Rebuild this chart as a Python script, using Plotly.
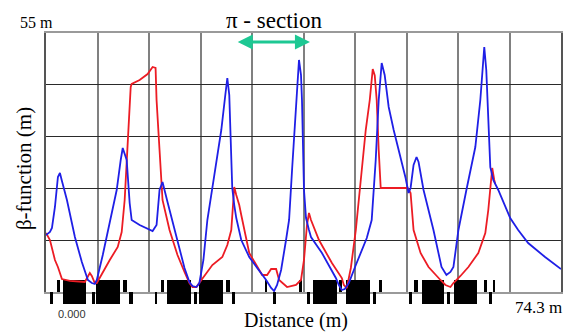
import plotly.graph_objects as go

# ---- data (metres) ----
blue_s = [0, 0.57, 0.86, 1.29, 1.72, 2.01, 2.30, 3.02, 4.17, 5.17, 6.04, 6.61, 7.04, 7.33, 8.19, 9.20,
          10.20, 10.78, 11.07, 11.64, 12.07, 12.36, 13.51, 15.38, 15.95, 16.38, 16.81, 17.53, 18.83,
          19.98, 20.69, 21.13, 21.70, 22.13, 22.71, 23.28, 24.29, 25.29, 25.87, 26.16, 26.44, 26.73,
          26.87, 27.16, 27.45, 28.17, 29.32, 30.47, 31.76, 32.48, 32.91, 33.34, 33.92, 34.63, 35.07,
          35.50, 35.93, 36.22, 36.50, 36.79, 36.93, 37.22, 37.51, 37.94, 38.23, 39.81, 40.81, 41.82,
          42.25, 42.68, 43.11, 43.69, 44.70, 45.56, 46.28, 46.99, 47.57, 48.00, 48.29, 48.43, 48.86,
          49.44, 50.16, 50.88, 51.88, 52.31, 52.60, 53.03, 53.46, 53.75, 54.47, 55.90, 57.06, 57.77,
          58.35, 58.78, 59.50, 60.65, 61.94, 62.66, 63.09, 63.23, 63.52, 63.81, 64.10, 64.53, 65.25,
          66.97, 68.12, 69.56, 72.00, 74.30]
blue_beta = [12.1, 12.74, 13.6, 18.05, 24.42, 25.27, 23.57, 19.54, 11.68, 6.37, 2.55, 1.91, 1.70, 2.55,
             7.86, 14.86, 21.66, 28.03, 30.58, 28.03, 18.90, 15.29, 14.23, 12.95, 14.23, 21.66, 23.36,
             19.11, 11.68, 5.10, 2.12, 1.27, 1.06, 1.91, 6.80, 15.29, 24.85, 34.40, 41.83, 45.44, 41.83,
             30.15, 22.09, 18.47, 15.71, 11.04, 7.43, 5.10, 2.55, 0.85, 0.21, 1.49, 4.67, 11.04, 15.29,
             25.91, 36.53, 42.90, 49.27, 46.08, 40.77, 21.66, 15.71, 13.17, 11.68, 8.28, 5.73, 2.97,
             1.49, 0.42, 0.64, 1.91, 5.73, 8.92, 11.47, 15.29, 28.03, 40.77, 47.14, 48.63, 46.08, 39.29,
             34.40, 30.15, 24.21, 21.02, 22.09, 26.97, 28.67, 27.61, 21.66, 13.17, 5.31, 3.61, 4.25,
             5.31, 13.17, 21.66, 30.79, 40.77, 49.27, 52.03, 47.14, 35.89, 26.54, 23.78, 21.66, 15.71,
             13.17, 10.40, 7.43, 4.88]

red_s = [0, 0.57, 1.29, 1.72, 2.30, 3.45, 5.60, 6.04, 6.32, 6.61, 7.04, 7.33, 8.19, 9.20, 10.35, 10.92,
         11.35, 11.64, 11.93, 12.22, 12.36, 13.51, 14.66, 15.38, 15.81, 15.95, 16.38, 16.81, 17.82,
         18.97, 19.98, 20.69, 21.13, 21.70, 22.42, 24.00, 25.44, 26.16, 26.73, 27.16, 27.45, 27.88,
         28.17, 28.60, 29.32, 31.19, 31.90, 32.48, 33.20, 33.63, 34.78, 36.07, 36.79, 37.22, 37.51,
         37.65, 37.94, 38.23, 39.38, 41.25, 42.68, 42.97, 43.40, 43.98, 44.70, 45.41, 46.13, 46.71,
         47.14, 47.43, 47.71, 48.00, 48.29, 50.16, 52.17, 52.60, 53.03, 54.04, 55.19, 56.91, 57.63,
         58.35, 58.78, 59.79, 60.94, 62.37, 63.38, 63.81, 64.10, 64.38, 64.67, 64.81]
red_beta = [12.53, 11.04, 6.80, 5.31, 2.76, 2.34, 2.12, 3.40, 4.03, 3.40, 1.91, 1.91, 4.25, 6.80, 9.56,
            12.74, 19.54, 28.03, 36.53, 43.53, 44.17, 45.02, 46.29, 47.78, 47.57, 40.77, 30.15, 19.54,
            13.17, 7.86, 4.25, 1.91, 1.06, 1.06, 2.55, 5.73, 7.43, 9.98, 13.17, 22.30, 20.60, 18.47,
            16.35, 13.17, 8.28, 3.61, 3.61, 4.88, 4.88, 2.55, 1.06, 1.49, 2.55, 6.80, 11.04, 14.23,
            16.78, 15.29, 11.04, 6.16, 2.97, 1.49, 0.85, 5.10, 13.17, 23.78, 34.40, 40.77, 47.36, 46.0,
            40.77, 30.15, 22.09, 22.09, 22.09, 21.02, 13.17, 8.28, 5.31, 2.55, 1.49, 1.06, 1.91, 3.40,
            5.31, 8.28, 12.53, 17.41, 22.72, 26.33, 23.78, 22.93]

# magnet lattice: start, end (m) and kind (B = big magnet, U = upper tick, D = lower tick)
mag_start = [0.57, 1.58, 2.44, 6.61, 7.19, 11.07, 11.93, 15.66, 16.53, 17.39, 21.41, 22.13, 26.01,
             26.87, 31.62, 32.77, 36.50, 37.65, 38.52, 42.25, 43.26, 47.14, 48.00, 52.31, 53.03,
             54.18, 57.92, 58.92, 63.23, 63.95, 64.53]
mag_end = [1.01, 2.01, 5.75, 7.04, 10.63, 11.64, 12.50, 15.95, 16.96, 20.98, 21.84, 25.58, 26.59,
           27.31, 31.90, 33.20, 36.93, 38.08, 41.96, 42.68, 46.71, 47.57, 48.43, 52.74, 53.61,
           57.49, 58.35, 62.23, 63.66, 64.38, 64.81]
mag_kind = ["D", "U", "B", "D", "B", "U", "D", "D", "U", "B", "D", "B", "U",
            "D", "U", "D", "U", "D", "B", "U", "B", "D", "U", "D", "U",
            "B", "D", "B", "U", "D", "U"]

s_max = 74.3
beta_max = 55
pi_section = [27.45, 38.08]

# ---- figure ----
serif = "Liberation Serif"
fig = go.Figure()

# subplot 1: frame + grid only
fig.add_trace(go.Scatter(x=[], y=[], xaxis="x", yaxis="y", hoverinfo="skip"))

# subplot 2: magnet lattice (above the frame line)
base_of = {"B": -1.0, "U": 0.0, "D": -1.0}
height_of = {"B": 2.0, "U": 1.0, "D": 1.0}
centers = [(a + b) / 2 for a, b in zip(mag_start, mag_end)]
widths = [b - a for a, b in zip(mag_start, mag_end)]
fig.add_trace(go.Bar(x=centers, width=widths,
                     y=[height_of[k] for k in mag_kind],
                     base=[base_of[k] for k in mag_kind],
                     marker=dict(color="black", line=dict(width=0)),
                     xaxis="x2", yaxis="y2"))

# subplot 3: beta functions on top
fig.add_trace(go.Scatter(x=red_s, y=red_beta, mode="lines",
                         line=dict(color="#ec1c24", width=1.8), xaxis="x3", yaxis="y3"))
fig.add_trace(go.Scatter(x=blue_s, y=blue_beta, mode="lines",
                         line=dict(color="#1f1fe6", width=1.8), xaxis="x3", yaxis="y3"))

H_top, H_bot = 33, 310
H = H_bot - H_top
main_dom = [(H_bot - 292) / H, 1]

fig.update_layout(
    width=567, height=332,
    margin=dict(l=46, r=4, t=33, b=332 - H_bot),
    paper_bgcolor="white", plot_bgcolor="rgba(0,0,0,0)",
    showlegend=False, bargap=0,
    xaxis=dict(range=[0, s_max], dtick=s_max / 10, tick0=0, showticklabels=False, ticks="",
               showgrid=True, gridcolor="#808080", gridwidth=1.5, zeroline=False,
               showline=True, linecolor="#9a9a9a", linewidth=1.5, mirror=True, anchor="y"),
    yaxis=dict(range=[0, beta_max], dtick=beta_max / 5, tick0=0, showticklabels=False, ticks="",
               showgrid=True, gridcolor="#2a2a2a", gridwidth=1.3, zeroline=False,
               showline=True, linecolor="#555555", linewidth=1.5, mirror=True,
               domain=main_dom, anchor="x"),
    xaxis2=dict(range=[0, s_max], visible=False, anchor="y2"),
    yaxis2=dict(range=[-1, 1], visible=False, anchor="x2",
                domain=[(H_bot - 304) / H, (H_bot - 280) / H]),
    xaxis3=dict(range=[0, s_max], visible=False, anchor="y3"),
    yaxis3=dict(range=[0, beta_max], visible=False, anchor="x3", domain=main_dom),
)

def px_x(p):
    return (p - 46) / 517

def px_y(p):
    return (H_bot - p) / H

ann = [
    dict(text="55 m", x=px_x(36), y=px_y(22), size=16),
    dict(text="\u03c0 - section", x=px_x(275), y=px_y(20), size=23),
    dict(text="74.3 m", x=px_x(540), y=px_y(307), size=17),
    dict(text="Distance (m)", x=px_x(297), y=px_y(320), size=20),
]
for a in ann:
    fig.add_annotation(text=a["text"], x=a["x"], y=a["y"], xref="paper", yref="paper",
                       xanchor="center", yanchor="middle", showarrow=False,
                       font=dict(family=serif, size=a["size"], color="black"))
fig.add_annotation(text="\u03b2-function (m)", x=px_x(24), y=px_y(169), xref="paper", yref="paper",
                   xanchor="center", yanchor="middle", showarrow=False, textangle=-90,
                   font=dict(family=serif, size=21, color="black"))
fig.add_annotation(text="0.000", x=px_x(72), y=px_y(314), xref="paper", yref="paper",
                   xanchor="center", yanchor="middle", showarrow=False,
                   font=dict(family="Liberation Sans", size=11, color="#333333"))

fig.add_annotation(x=pi_section[1], y=53.1, ax=pi_section[0], ay=53.1, xref="x3", yref="y3",
                   axref="x3", ayref="y3", text="", showarrow=True, arrowside="end+start",
                   arrowhead=2, arrowsize=1.0, arrowwidth=3, arrowcolor="#1dc893",
                   standoff=0, startstandoff=0)

fig.write_html("out.html", config={"displayModeBar": False},
               post_script="document.body.style.margin='0';document.body.style.overflow='hidden';")
